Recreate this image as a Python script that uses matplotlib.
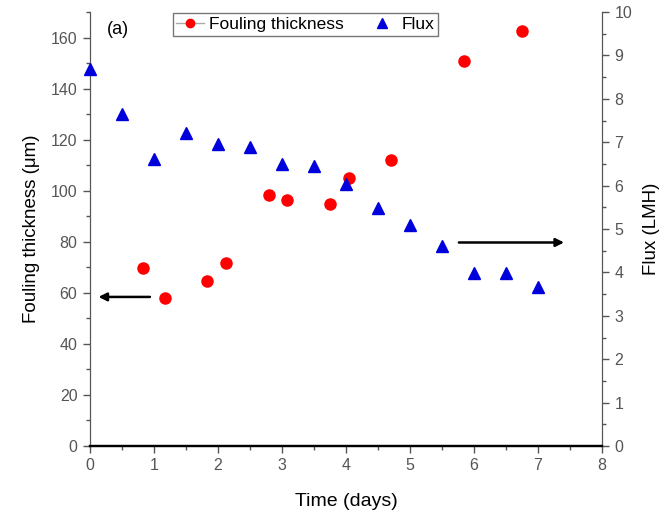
import matplotlib.pyplot as plt
from matplotlib.ticker import MultipleLocator
from matplotlib.lines import Line2D

plt.rcParams['font.family'] = ['Liberation Sans', 'DejaVu Sans']

# fouling thickness (left axis)
t_foul = [0.83, 1.17, 1.83, 2.13, 2.80, 3.08, 3.75, 4.04, 4.71, 5.84, 6.75]
foul = [69.9, 57.9, 64.7, 71.5, 98.2, 96.2, 94.9, 105.1, 111.9, 151.0, 162.7]

# flux (right axis)
t_flux = [0, 0.5, 1.0, 1.5, 2.0, 2.5, 3.0, 3.5, 4.0, 4.5, 5.0, 5.5, 6.0, 6.5, 7.0]
flux = [8.68, 7.64, 6.61, 7.22, 6.97, 6.88, 6.51, 6.46, 6.04, 5.48, 5.09, 4.61, 3.99, 3.98, 3.67]

gray = '#555555'

fig = plt.figure(figsize=(6.65, 5.24), dpi=100)
ax = fig.add_axes([0.1353, 0.1489, 0.77, 0.828])
ax2 = ax.twinx()

ax.plot(t_foul, foul, 'o', color='red', ms=8, clip_on=False, zorder=3)
ax2.plot(t_flux, flux, '^', color='#0000dd', ms=8.5, clip_on=False, zorder=3)

ax.set_xlim(0, 8)
ax.set_ylim(0, 170)
ax2.set_ylim(0, 10)

ax.xaxis.set_major_locator(MultipleLocator(1))
ax.xaxis.set_minor_locator(MultipleLocator(0.5))
ax.yaxis.set_major_locator(MultipleLocator(20))
ax.yaxis.set_minor_locator(MultipleLocator(10))
ax2.yaxis.set_major_locator(MultipleLocator(1))
ax2.yaxis.set_minor_locator(MultipleLocator(0.5))

for a in (ax, ax2):
    a.spines['top'].set_visible(False)
    a.spines['left'].set_color(gray)
    a.spines['right'].set_color(gray)
    a.spines['bottom'].set_color('black')
    a.spines['bottom'].set_linewidth(1.6)
    a.tick_params(which='major', length=5, width=1, color=gray, labelcolor=gray,
                  labelsize=11.5, pad=4)
    a.tick_params(which='minor', length=3, width=1, color=gray)

ax.set_xlabel('Time (days)', fontsize=14, labelpad=14)
ax.set_ylabel('Fouling thickness (\u03bcm)', fontsize=13.5, labelpad=8)
ax2.set_ylabel('Flux (LMH)', fontsize=13.5, labelpad=8)

# arrows
ax.annotate('', xy=(0.09, 58.4), xytext=(0.98, 58.4),
            arrowprops=dict(arrowstyle='-|>', color='black', lw=1.8, mutation_scale=12))
ax2.annotate('', xy=(7.45, 4.69), xytext=(5.72, 4.69),
             arrowprops=dict(arrowstyle='-|>', color='black', lw=1.8, mutation_scale=12))

ax.text(0.033, 0.96, '(a)', transform=ax.transAxes, fontsize=13, va='center')

handles = [
    Line2D([], [], color='#aaaaaa', lw=1, marker='o', mfc='red', mec='red', ms=6),
    Line2D([], [], color='none', marker='^', mfc='#0000dd', mec='#0000dd', ms=7),
]
leg = ax2.legend(handles, ['Fouling thickness', 'Flux'], ncol=2, loc='upper left',
                 bbox_to_anchor=(0.162, 0.997), fontsize=12.5, frameon=True, fancybox=False,
                 handlelength=1.6, handletextpad=0.3, columnspacing=1.4,
                 borderpad=0.2, borderaxespad=0.0)
leg.get_frame().set_edgecolor(gray)
leg.get_frame().set_linewidth(1)

fig.savefig('out.png', dpi=100)
